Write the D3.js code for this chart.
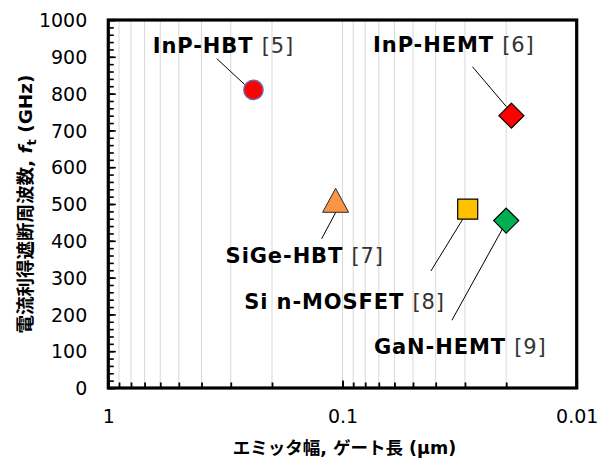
<!DOCTYPE html>
<html>
<head>
<meta charset="utf-8">
<script src="https://cdn.jsdelivr.net/npm/d3@7"></script>
<style>
  html, body { margin: 0; padding: 0; background: #fff; }
  svg { display: block; }
  text { font-family: "DejaVu Sans", "Noto Sans CJK JP", sans-serif; }
</style>
</head>
<body>
<svg id="chart" width="599" height="462"></svg>
<script>
// ---- data ----
const devices   = ["InP-HBT", "InP-HEMT", "SiGe-HBT", "Si n-MOSFET", "GaN-HEMT"];
const refs      = ["[5]", "[6]", "[7]", "[8]", "[9]"];
const sizeUm    = [0.24, 0.019, 0.107, 0.0292, 0.02];   // emitter width / gate length (µm)
const ftGHz     = [810, 740, 510, 486, 455];             // current-gain cutoff frequency (GHz)
const xTickValues = [1, 0.1, 0.01];
const xTickLabels = ["1", "0.1", "0.01"];
const yTickValues = [0, 100, 200, 300, 400, 500, 600, 700, 800, 900, 1000];
const xTitle = "エミッタ幅, ゲート長 (μm)";
const yTitleMain = "電流利得遮断周波数, ";

// ---- layout / style (not data) ----
const W = 599, H = 462;
const L = 108.3, R = 576.7, T = 20, B = 388;
const markerStyle = [
  {shape: "circle",   fill: "#ff0000", stroke: "#7264a6", sw: 1.5, s: 9.6},
  {shape: "diamond",  fill: "#ff0000", stroke: "#000000", sw: 1.2, s: 12.5},
  {shape: "triangle", fill: "#f79646", stroke: "#2a2a2a", sw: 1.0, s: 13},
  {shape: "square",   fill: "#ffc000", stroke: "#000000", sw: 1.2, s: 10},
  {shape: "diamond",  fill: "#00b050", stroke: "#000000", sw: 1.2, s: 12.5}
];
// label start offsets and leader-line offsets, relative to marker centre (px)
const labelLayout = [
  {dx: -100.7, dy: -36.6, l1: [-36.7, -31.3], l2: [-8.7, -5.3]},
  {dx: -138.3, dy: -63.3, l1: [-39, -49],     l2: [-5, -9]},
  {dx: -110,   dy: 62.2,  l1: [-14, 38.5],    l2: [2, 8.5]},
  {dx: -223.5, dy: 100,   l1: [-36.8, 61.8],  l2: [-4.8, 9.8]},
  {dx: -132.3, dy: 133,   l1: [-54.3, 99.7],  l2: [-2.3, 5.7]}
];

const svg = d3.select("#chart");
const x = d3.scaleLog().domain([1, 0.01]).range([L, R]);
const y = d3.scaleLinear().domain([0, 1000]).range([B, T]);

// vertical gridlines at every log tick
const logTicks = x.ticks().filter(v => v < 0.999 && v > 0.0101);
svg.append("g").selectAll("line").data(logTicks).join("line")
  .attr("x1", d => x(d)).attr("x2", d => x(d))
  .attr("y1", T).attr("y2", B)
  .attr("stroke", "#d9d9d9").attr("stroke-width", 1);

// y minor ticks (inside) every 20
const yMinor = d3.range(0, 1001, 20);
const yAxisMinor = d3.axisLeft(y).tickValues(yMinor).tickSize(-5.5).tickFormat("");
const gyMinor = svg.append("g").attr("transform", `translate(${L},0)`).call(yAxisMinor);
gyMinor.select(".domain").remove();
gyMinor.selectAll("line").attr("stroke", "#000").attr("stroke-width", 1.6);

// y major ticks + labels
const yAxis = d3.axisLeft(y).tickValues(yTickValues).tickSize(-7.5).tickPadding(21).tickFormat(d3.format("d"));
const gy = svg.append("g").attr("transform", `translate(${L},0)`).call(yAxis);
gy.select(".domain").remove();
gy.selectAll("line").attr("stroke", "#000").attr("stroke-width", 1.6);
gy.selectAll("text").attr("font-size", 19).attr("fill", "#000")
  .attr("font-family", "DejaVu Sans").attr("dy", "0.35em");

// x minor ticks (inside)
const xAxisMinor = d3.axisBottom(x).tickValues(logTicks).tickSize(-5.5).tickFormat("");
const gxMinor = svg.append("g").attr("transform", `translate(0,${B})`).call(xAxisMinor);
gxMinor.select(".domain").remove();
gxMinor.selectAll("line").attr("stroke", "#000").attr("stroke-width", 1.8);

// x major ticks + labels
const xAxis = d3.axisBottom(x).tickValues(xTickValues).tickSize(-7.5).tickPadding(22)
  .tickFormat((d, i) => xTickLabels[i]);
const gx = svg.append("g").attr("transform", `translate(0,${B})`).call(xAxis);
gx.select(".domain").remove();
gx.selectAll("line").attr("stroke", "#000").attr("stroke-width", 1.8);
gx.selectAll("text").attr("font-size", 19).attr("fill", "#000")
  .attr("font-family", "DejaVu Sans").attr("dy", "0.71em");

// frame
svg.append("rect").attr("x", L).attr("y", T).attr("width", R - L).attr("height", B - T)
  .attr("fill", "none").attr("stroke", "#000").attr("stroke-width", 3.2);

// axis titles
svg.append("text").attr("x", (L + R) / 2 + 2).attr("y", 454)
  .attr("text-anchor", "middle").attr("font-size", 17.5).attr("font-weight", "bold")
  .attr("fill", "#000").text(xTitle);

const yt = svg.append("text")
  .attr("transform", `translate(32,${(T + B) / 2}) rotate(-90)`)
  .attr("text-anchor", "middle").attr("font-size", 18.5).attr("font-weight", "bold").attr("fill", "#000");
yt.append("tspan").text(yTitleMain);
yt.append("tspan").attr("font-style", "italic").text("f");
yt.append("tspan").attr("font-size", 13).attr("dy", 4).text("t");
yt.append("tspan").attr("dy", -4).text(" (GHz)");

// leader lines
const pts = devices.map((d, i) => ({name: d, ref: refs[i], cx: x(sizeUm[i]), cy: y(ftGHz[i]), st: markerStyle[i], lay: labelLayout[i]}));
svg.append("g").selectAll("line").data(pts).join("line")
  .attr("x1", d => d.cx + d.lay.l1[0]).attr("y1", d => d.cy + d.lay.l1[1])
  .attr("x2", d => d.cx + d.lay.l2[0]).attr("y2", d => d.cy + d.lay.l2[1])
  .attr("stroke", "#000").attr("stroke-width", 1);

// markers
function shapePath(st) {
  const s = st.s, p = d3.path();
  if (st.shape === "circle") { p.arc(0, 0, s, 0, 2 * Math.PI); p.closePath(); }
  else if (st.shape === "diamond") { p.moveTo(0, -s); p.lineTo(s, 0); p.lineTo(0, s); p.lineTo(-s, 0); p.closePath(); }
  else if (st.shape === "square") { p.rect(-s, -s, 2 * s, 2 * s); }
  else if (st.shape === "triangle") { p.moveTo(0, -s * 0.92); p.lineTo(s, s * 0.92); p.lineTo(-s, s * 0.92); p.closePath(); }
  return p.toString();
}
svg.append("g").selectAll("path").data(pts).join("path")
  .attr("transform", d => `translate(${d.cx},${d.cy})`)
  .attr("d", d => shapePath(d.st))
  .attr("fill", d => d.st.fill).attr("stroke", d => d.st.stroke).attr("stroke-width", d => d.st.sw);

// labels
const lbl = svg.append("g").selectAll("text").data(pts).join("text")
  .attr("x", d => d.cx + d.lay.dx).attr("y", d => d.cy + d.lay.dy)
  .attr("font-size", 21).attr("letter-spacing", 0.9);
lbl.append("tspan").attr("font-weight", "bold").attr("fill", "#000").text(d => d.name + " ");
lbl.append("tspan").attr("fill", "#333").text(d => d.ref);
</script>
</body>
</html>
